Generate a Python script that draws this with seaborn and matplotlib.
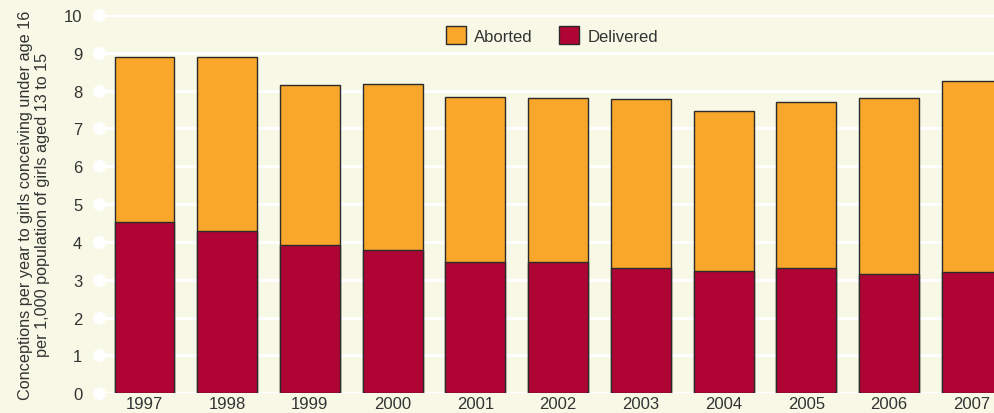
import matplotlib
matplotlib.use('Agg')

import numpy as np
import pandas as pd
import matplotlib.pyplot as plt
import seaborn as sns
from matplotlib.patches import Patch

# values
years = ["1997", "1998", "1999", "2000", "2001", "2002", "2003", "2004", "2005", "2006", "2007"]
delivered = [4.52, 4.29, 3.93, 3.80, 3.48, 3.48, 3.32, 3.23, 3.30, 3.15, 3.20]
aborted = [4.38, 4.61, 4.21, 4.37, 4.34, 4.32, 4.46, 4.24, 4.41, 4.65, 5.05]
y_ticks = [0, 1, 2, 3, 4, 5, 6, 7, 8, 9, 10]

bg = "#F7F8E6"
orange = "#F9A72B"
crimson = "#B00434"
edge = "#2b2b2b"
text_col = "#333333"

df = pd.DataFrame({"Year": years, "Delivered": delivered, "Aborted": aborted})
df["Total"] = df["Delivered"] + df["Aborted"]

sns.set_theme(style="white")
plt.rcParams['font.family'] = ['Liberation Sans', 'DejaVu Sans']

fig = plt.figure(figsize=(9.94, 4.14), dpi=100, facecolor=bg)
ax = fig.add_axes([0.0996, 0.0476, 0.9004, 0.9138])
ax.set_facecolor(bg)

# white gridlines with a round cap at the left end
for t in y_ticks:
    ax.axhline(t, color="white", lw=2.2, zorder=0)
ax.scatter([-0.55] * len(y_ticks), y_ticks, s=70, color="white", zorder=1, clip_on=False)

sns.barplot(data=df, x="Year", y="Total", color=orange, width=0.725,
            edgecolor=edge, linewidth=1.0, saturation=1, ax=ax, zorder=2)
sns.barplot(data=df, x="Year", y="Delivered", color=crimson, width=0.725,
            edgecolor=edge, linewidth=1.0, saturation=1, ax=ax, zorder=3)

ax.set_xlim(-0.55, 10.27)
ax.set_ylim(0, 10)
ax.set_yticks(y_ticks)
ax.tick_params(axis="y", length=0, pad=12, labelsize=12, labelcolor=text_col)
ax.tick_params(axis="x", length=0, pad=2, labelsize=12, labelcolor=text_col)
ax.set_xlabel("")
ax.set_ylabel("Conceptions per year to girls conceiving under age 16\nper 1,000 population of girls aged 13 to 15",
              fontsize=11.7, color=text_col, labelpad=10, linespacing=1.15)
for s in ax.spines.values():
    s.set_visible(False)

handles = [Patch(facecolor=orange, edgecolor=edge, label="Aborted"),
           Patch(facecolor=crimson, edgecolor=edge, label="Delivered")]
ax.legend(handles=handles, loc="center", bbox_to_anchor=(0.506, 0.947), ncol=2,
          frameon=False, fontsize=12, handlelength=1.2, handleheight=1.2,
          columnspacing=1.6, handletextpad=0.5, labelcolor=text_col)

fig.savefig("out.png", dpi=100, facecolor=bg)
